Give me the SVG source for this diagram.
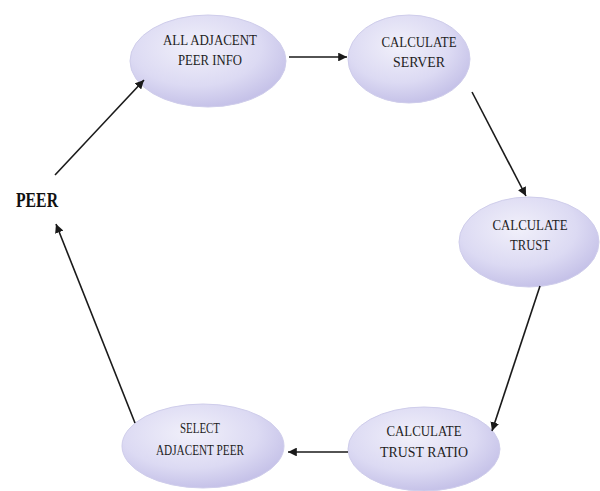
<svg xmlns="http://www.w3.org/2000/svg" width="600" height="491" viewBox="0 0 600 491">
  <style>
    .node ellipse { fill: url(#g); stroke: #cfcdeb; stroke-width: 1; }
    .node text { font-family: "Liberation Serif", "Times New Roman", serif; font-size: 15px; fill: #1e1e1e; text-anchor: middle; }
    .conn line { stroke: #1a1a1a; stroke-width: 1.6; marker-end: url(#ah); }
    .peer { font-family: "Liberation Serif", "Times New Roman", serif; font-size: 20px; font-weight: bold; fill: #111; }
  </style>
  <defs>
    <radialGradient id="g" cx="0.42" cy="0.35" r="0.7">
      <stop offset="0" stop-color="#f1f0fa"/>
      <stop offset="0.6" stop-color="#dcdaf3"/>
      <stop offset="1" stop-color="#c1bde6"/>
    </radialGradient>
    <marker id="ah" viewBox="0 0 10 10" refX="10" refY="5" markerWidth="5.5" markerHeight="5.5" orient="auto" markerUnits="strokeWidth">
      <path d="M0,0 L10,5 L0,10 z" fill="#1a1a1a"/>
    </marker>
  </defs>
  <rect width="600" height="491" fill="#fff"/>
  <g id="peer"><text class="peer" x="16" y="207" textLength="42" lengthAdjust="spacingAndGlyphs">PEER</text></g>
  <g id="n1" class="node">
    <ellipse cx="208" cy="61" rx="78" ry="46"/>
    <text x="210" y="45" textLength="94" lengthAdjust="spacingAndGlyphs">ALL ADJACENT</text>
    <text x="210" y="65" textLength="64" lengthAdjust="spacingAndGlyphs">PEER INFO</text>
  </g>
  <g id="n2" class="node">
    <ellipse cx="409" cy="59" rx="61" ry="44"/>
    <text x="419" y="47" textLength="75" lengthAdjust="spacingAndGlyphs">CALCULATE</text>
    <text x="419" y="67" textLength="52" lengthAdjust="spacingAndGlyphs">SERVER</text>
  </g>
  <g id="n3" class="node">
    <ellipse cx="529" cy="242" rx="70" ry="45"/>
    <text x="530" y="230" textLength="75" lengthAdjust="spacingAndGlyphs">CALCULATE</text>
    <text x="530" y="250" textLength="40" lengthAdjust="spacingAndGlyphs">TRUST</text>
  </g>
  <g id="n4" class="node">
    <ellipse cx="424" cy="449" rx="76" ry="42"/>
    <text x="424" y="436" textLength="75" lengthAdjust="spacingAndGlyphs">CALCULATE</text>
    <text x="424" y="457" textLength="88" lengthAdjust="spacingAndGlyphs">TRUST RATIO</text>
  </g>
  <g id="n5" class="node">
    <ellipse cx="203" cy="446" rx="81" ry="42"/>
    <text x="200" y="433" textLength="40" lengthAdjust="spacingAndGlyphs">SELECT</text>
    <text x="200" y="455" textLength="88" lengthAdjust="spacingAndGlyphs">ADJACENT PEER</text>
  </g>
  <g id="connectors" class="conn">
    <line x1="55" y1="175" x2="144" y2="80"/>
    <line x1="289" y1="57" x2="347" y2="57"/>
    <line x1="472" y1="92" x2="526" y2="196"/>
    <line x1="540" y1="286" x2="492" y2="431"/>
    <line x1="348" y1="452" x2="288" y2="452"/>
    <line x1="135" y1="423" x2="56" y2="224"/>
  </g>
</svg>
